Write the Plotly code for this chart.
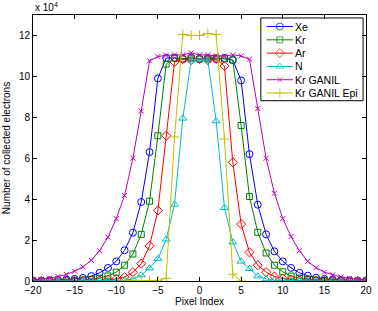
import plotly.graph_objects as go

pixel = list(range(-20, 21))

xe = [0.01, 0.02, 0.03, 0.05, 0.07, 0.10, 0.15, 0.24, 0.40, 0.64, 0.96, 1.50, 2.36, 3.86, 6.30, 9.90, 10.90, 10.90, 10.85, 10.90,
      10.85, 10.90, 10.85, 10.90, 10.80, 9.80, 6.20, 3.73, 2.28, 1.45, 0.96, 0.64, 0.40, 0.26, 0.16, 0.10, 0.07, 0.05, 0.03, 0.02, 0.01]
kr = [0.00, 0.00, 0.01, 0.01, 0.02, 0.03, 0.05, 0.08, 0.14, 0.25, 0.43, 0.77, 1.32, 2.28, 3.90, 7.10, 10.60, 10.90, 10.85, 10.90,
      10.85, 10.85, 10.90, 10.85, 10.80, 7.60, 4.13, 2.38, 1.37, 0.77, 0.45, 0.24, 0.14, 0.08, 0.05, 0.03, 0.02, 0.01, 0.01, 0.00, 0.00]
ar = [0.00, 0.00, 0.00, 0.00, 0.00, 0.00, 0.01, 0.02, 0.03, 0.06, 0.10, 0.19, 0.43, 0.85, 1.72, 3.45, 7.10, 10.70, 10.85, 10.80,
      10.85, 10.80, 10.85, 10.50, 5.80, 2.78, 1.40, 0.77, 0.43, 0.22, 0.12, 0.06, 0.03, 0.02, 0.01, 0.00, 0.00, 0.00, 0.00, 0.00, 0.00]
n = [0.00, 0.00, 0.00, 0.00, 0.00, 0.00, 0.00, 0.00, 0.00, 0.01, 0.02, 0.04, 0.10, 0.29, 0.63, 1.09, 2.04, 3.74, 7.95, 10.80,
     10.85, 10.80, 7.82, 3.58, 1.90, 0.96, 0.60, 0.24, 0.10, 0.04, 0.02, 0.01, 0.00, 0.00, 0.00, 0.00, 0.00, 0.00, 0.00, 0.00, 0.00]
kr_ganil = [0.05, 0.08, 0.14, 0.22, 0.32, 0.48, 0.69, 1.01, 1.48, 2.14, 3.05, 4.18, 6.00, 8.30, 10.76, 10.97, 11.03, 11.05, 11.05, 11.15,
            11.05, 11.05, 11.00, 11.00, 11.05, 11.00, 10.84, 8.43, 6.00, 4.29, 3.05, 2.17, 1.48, 0.96, 0.65, 0.43, 0.30, 0.20, 0.12, 0.08, 0.05]
epi_pixel = list(range(-9, 6))
kr_ganil_epi = [0.00, 0.00, 0.00, 0.01, 0.02, 0.13, 7.04, 12.05, 12.00, 12.00, 12.10, 12.05, 6.94, 0.33, 0.00]

names = ["Xe", "Kr", "Ar", "N", "Kr GANIL", "Kr GANIL Epi"]
x_ticks = [-20, -15, -10, -5, 0, 5, 10, 15, 20]
x_tick_text = ["\u221220", "\u221215", "\u221210", "\u22125", "0", "5", "10", "15", "20"]
y_ticks = [0, 2, 4, 6, 8, 10, 12]

# styles
colors = ["rgb(0,0,255)", "rgb(0,128,0)", "rgb(255,0,0)", "rgb(0,191,191)", "rgb(191,0,191)", "rgb(191,191,0)"]
symbols = ["circle-open", "square-open", "diamond-open", "triangle-up-open", "x-thin-open", "cross-thin-open"]
sizes = [7, 6, 7, 7, 5, 7]
xs_all = [pixel, pixel, pixel, pixel, pixel, epi_pixel]
ys_all = [xe, kr, ar, n, kr_ganil, kr_ganil_epi]

W, H = 378, 311
ML, MR, MT, MB = 30, 6, 15, 26
PW, PH = W - ML - MR, H - MT - MB


def fx(px):
    return (px - ML) / PW


def fy(py):
    return (H - MB - py) / PH


fig = go.Figure()
for name, xs, ys, col, sym, sz in zip(names, xs_all, ys_all, colors, symbols, sizes):
    fig.add_trace(go.Scatter(
        x=xs, y=ys, name=name, mode="lines+markers",
        line=dict(color=col, width=1),
        marker=dict(symbol=sym, size=sz, color=col, line=dict(color=col, width=1)),
        showlegend=False,
    ))

# hand-built legend (MATLAB-style compact rows)
leg_left, leg_right, leg_top, leg_bottom = 264, 369, 18, 102
row_y0, row_step = 26.7, 13.5
sample_x0, sample_x1, text_x = 270, 297, 298
font = dict(family="Liberation Sans, Arial, sans-serif", size=10, color="black")
shapes = [dict(type="rect", xref="paper", yref="paper", layer="below",
               x0=fx(leg_left), x1=fx(leg_right), y0=fy(leg_bottom), y1=fy(leg_top),
               fillcolor="white", line=dict(color="black", width=1))]
annotations = [dict(text="x 10<sup>4</sup>", xref="paper", yref="paper", x=0, y=1,
                    xanchor="left", yanchor="bottom", showarrow=False, font=font)]
for i, (name, col, sym, sz) in enumerate(zip(names, colors, symbols, sizes)):
    ry = fy(row_y0 + i * row_step)
    fig.add_trace(go.Scatter(
        x=[fx(sample_x0), fx((sample_x0 + sample_x1) / 2), fx(sample_x1)], y=[ry, ry, ry],
        xaxis="x2", yaxis="y2", mode="lines+markers", showlegend=False, hoverinfo="skip",
        line=dict(color=col, width=1),
        marker=dict(symbol=sym, size=[0, sz, 0], color=col, line=dict(color=col, width=1)),
    ))
    annotations.append(dict(text=name, xref="paper", yref="paper", x=fx(text_x), y=ry,
                            xanchor="left", yanchor="middle", showarrow=False, borderpad=0,
                            font=dict(family="Liberation Sans, Arial, sans-serif", size=10.5, color="black")))

fig.update_layout(
    width=W, height=H,
    margin=dict(l=ML, r=MR, t=MT, b=MB),
    paper_bgcolor="white", plot_bgcolor="white",
    font=font, showlegend=False,
    xaxis=dict(range=[-20, 20], tickvals=x_ticks, ticktext=x_tick_text,
               ticks="inside", ticklen=4, tickcolor="black", showline=True, linecolor="black",
               linewidth=1, mirror="ticks", showgrid=False, zeroline=False,
               title=dict(text="Pixel Index", standoff=2, font=font)),
    yaxis=dict(range=[0, 13], tickvals=y_ticks, ticks="inside", ticklen=4, tickcolor="black",
               showline=True, linecolor="black", linewidth=1, mirror="ticks",
               showgrid=False, zeroline=False,
               title=dict(text="Number of collected electrons", standoff=6, font=font)),
    xaxis2=dict(overlaying="x", anchor="y2", range=[0, 1], visible=False, fixedrange=True),
    yaxis2=dict(overlaying="y", anchor="x2", range=[0, 1], visible=False, fixedrange=True),
    shapes=shapes,
    annotations=annotations,
)

fig.write_html("out.html")
